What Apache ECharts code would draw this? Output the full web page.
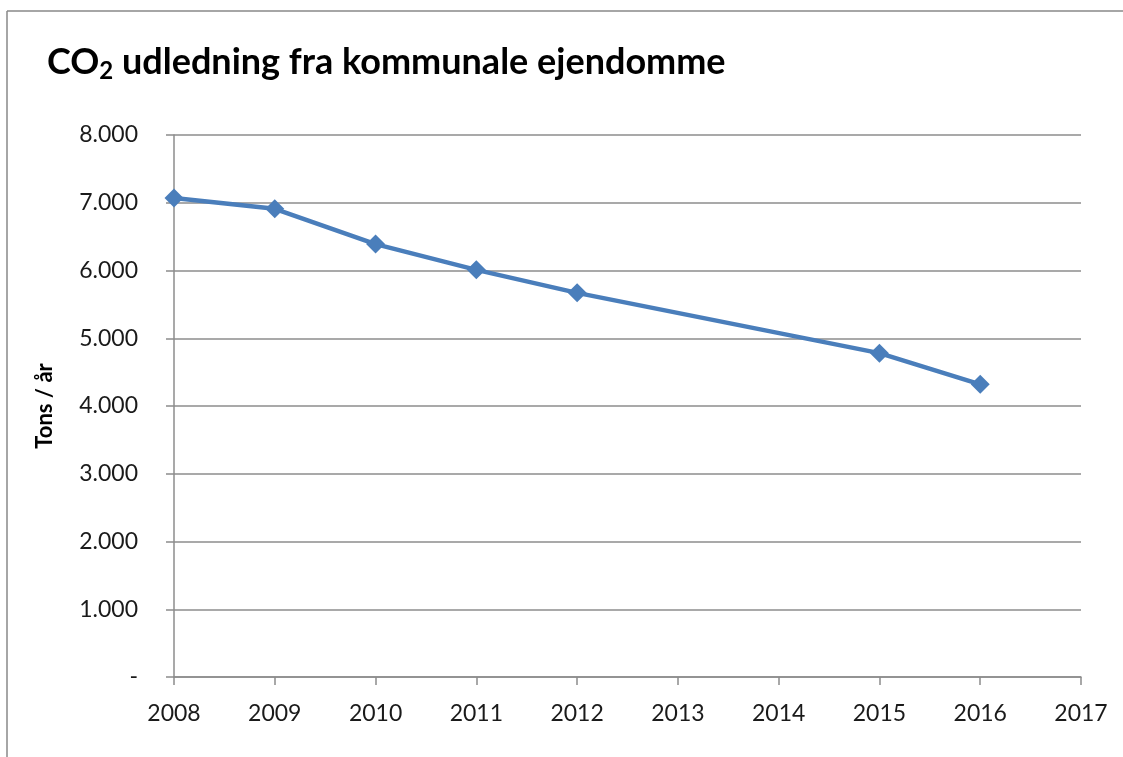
<!DOCTYPE html>
<html>
<head>
<meta charset="utf-8">
<script src="https://cdn.jsdelivr.net/npm/echarts@6/dist/echarts.min.js"></script>
<style>
  html, body { margin: 0; padding: 0; background: #fff; }
  #chart { width: 1123px; height: 757px; }
</style>
</head>
<body>
<div id="chart"></div>
<script>
// years on the x axis (2013 and 2014 have no measurement)
const years = ['2008', '2009', '2010', '2011', '2012', '2013', '2014', '2015', '2016', '2017'];
const emissions = [7070, 6910, 6390, 6010, 5670, null, null, 4780, 4320, null];
const yTicks = [0, 1000, 2000, 3000, 4000, 5000, 6000, 7000, 8000];

const fontFamily = 'Lato, "Open Sans", sans-serif';
const chart = echarts.init(document.getElementById('chart'));

const formatThousands = (v) => {
  if (v === 0) return '-';
  const s = String(v);
  return s.slice(0, s.length - 3) + '.' + s.slice(-3);
};

const options = {
  backgroundColor: '#fff',
  animation: false,
  title: {
    text: 'CO{sub|2} udledning fra kommunale ejendomme',
    left: 42,
    top: 36,
    textStyle: {
      fontFamily,
      fontSize: 36,
      fontWeight: 'bold',
      color: '#000',
      rich: {
        sub: {
          fontFamily,
          fontSize: 24,
          fontWeight: 'bold',
          color: '#000',
          padding: [18, 0, 0, 0]
        }
      }
    }
  },
  graphic: [
    { type: 'line', shape: { x1: 7, y1: 11, x2: 1123, y2: 11 }, style: { stroke: '#888', lineWidth: 1.5 } },
    { type: 'line', shape: { x1: 7, y1: 11, x2: 7, y2: 757 }, style: { stroke: '#888', lineWidth: 1.5 } }
  ],
  grid: {
    left: 174,
    right: 42,
    top: 135,
    bottom: 80,
    containLabel: false
  },
  xAxis: {
    type: 'category',
    data: years,
    boundaryGap: false,
    axisLine: { lineStyle: { color: '#8c8c8c', width: 1.5 } },
    axisTick: { show: true, length: 8, lineStyle: { color: '#8c8c8c', width: 1.5 } },
    axisLabel: { margin: 25, fontFamily, fontSize: 23, color: '#1a1a1a' },
    splitLine: { show: false }
  },
  yAxis: {
    type: 'value',
    min: 0,
    max: yTicks[yTicks.length - 1],
    interval: 1000,
    name: 'Tons / år',
    nameLocation: 'middle',
    nameGap: 118,
    nameTextStyle: { fontFamily, fontSize: 22, fontWeight: 'bold', color: '#000' },
    axisLine: { show: true, lineStyle: { color: '#8c8c8c', width: 1.5 } },
    axisTick: { show: true, length: 8, lineStyle: { color: '#8c8c8c', width: 1.5 } },
    axisLabel: { margin: 36, fontFamily, fontSize: 23, color: '#1a1a1a', formatter: formatThousands },
    splitLine: { show: true, lineStyle: { color: '#8c8c8c', width: 1.5 } }
  },
  series: [
    {
      type: 'line',
      data: emissions,
      connectNulls: true,
      symbol: 'diamond',
      symbolSize: 19,
      lineStyle: { color: '#4a7ebb', width: 4.5 },
      itemStyle: { color: '#4a7ebb' }
    }
  ]
};

chart.setOption(options);
</script>
</body>
</html>
